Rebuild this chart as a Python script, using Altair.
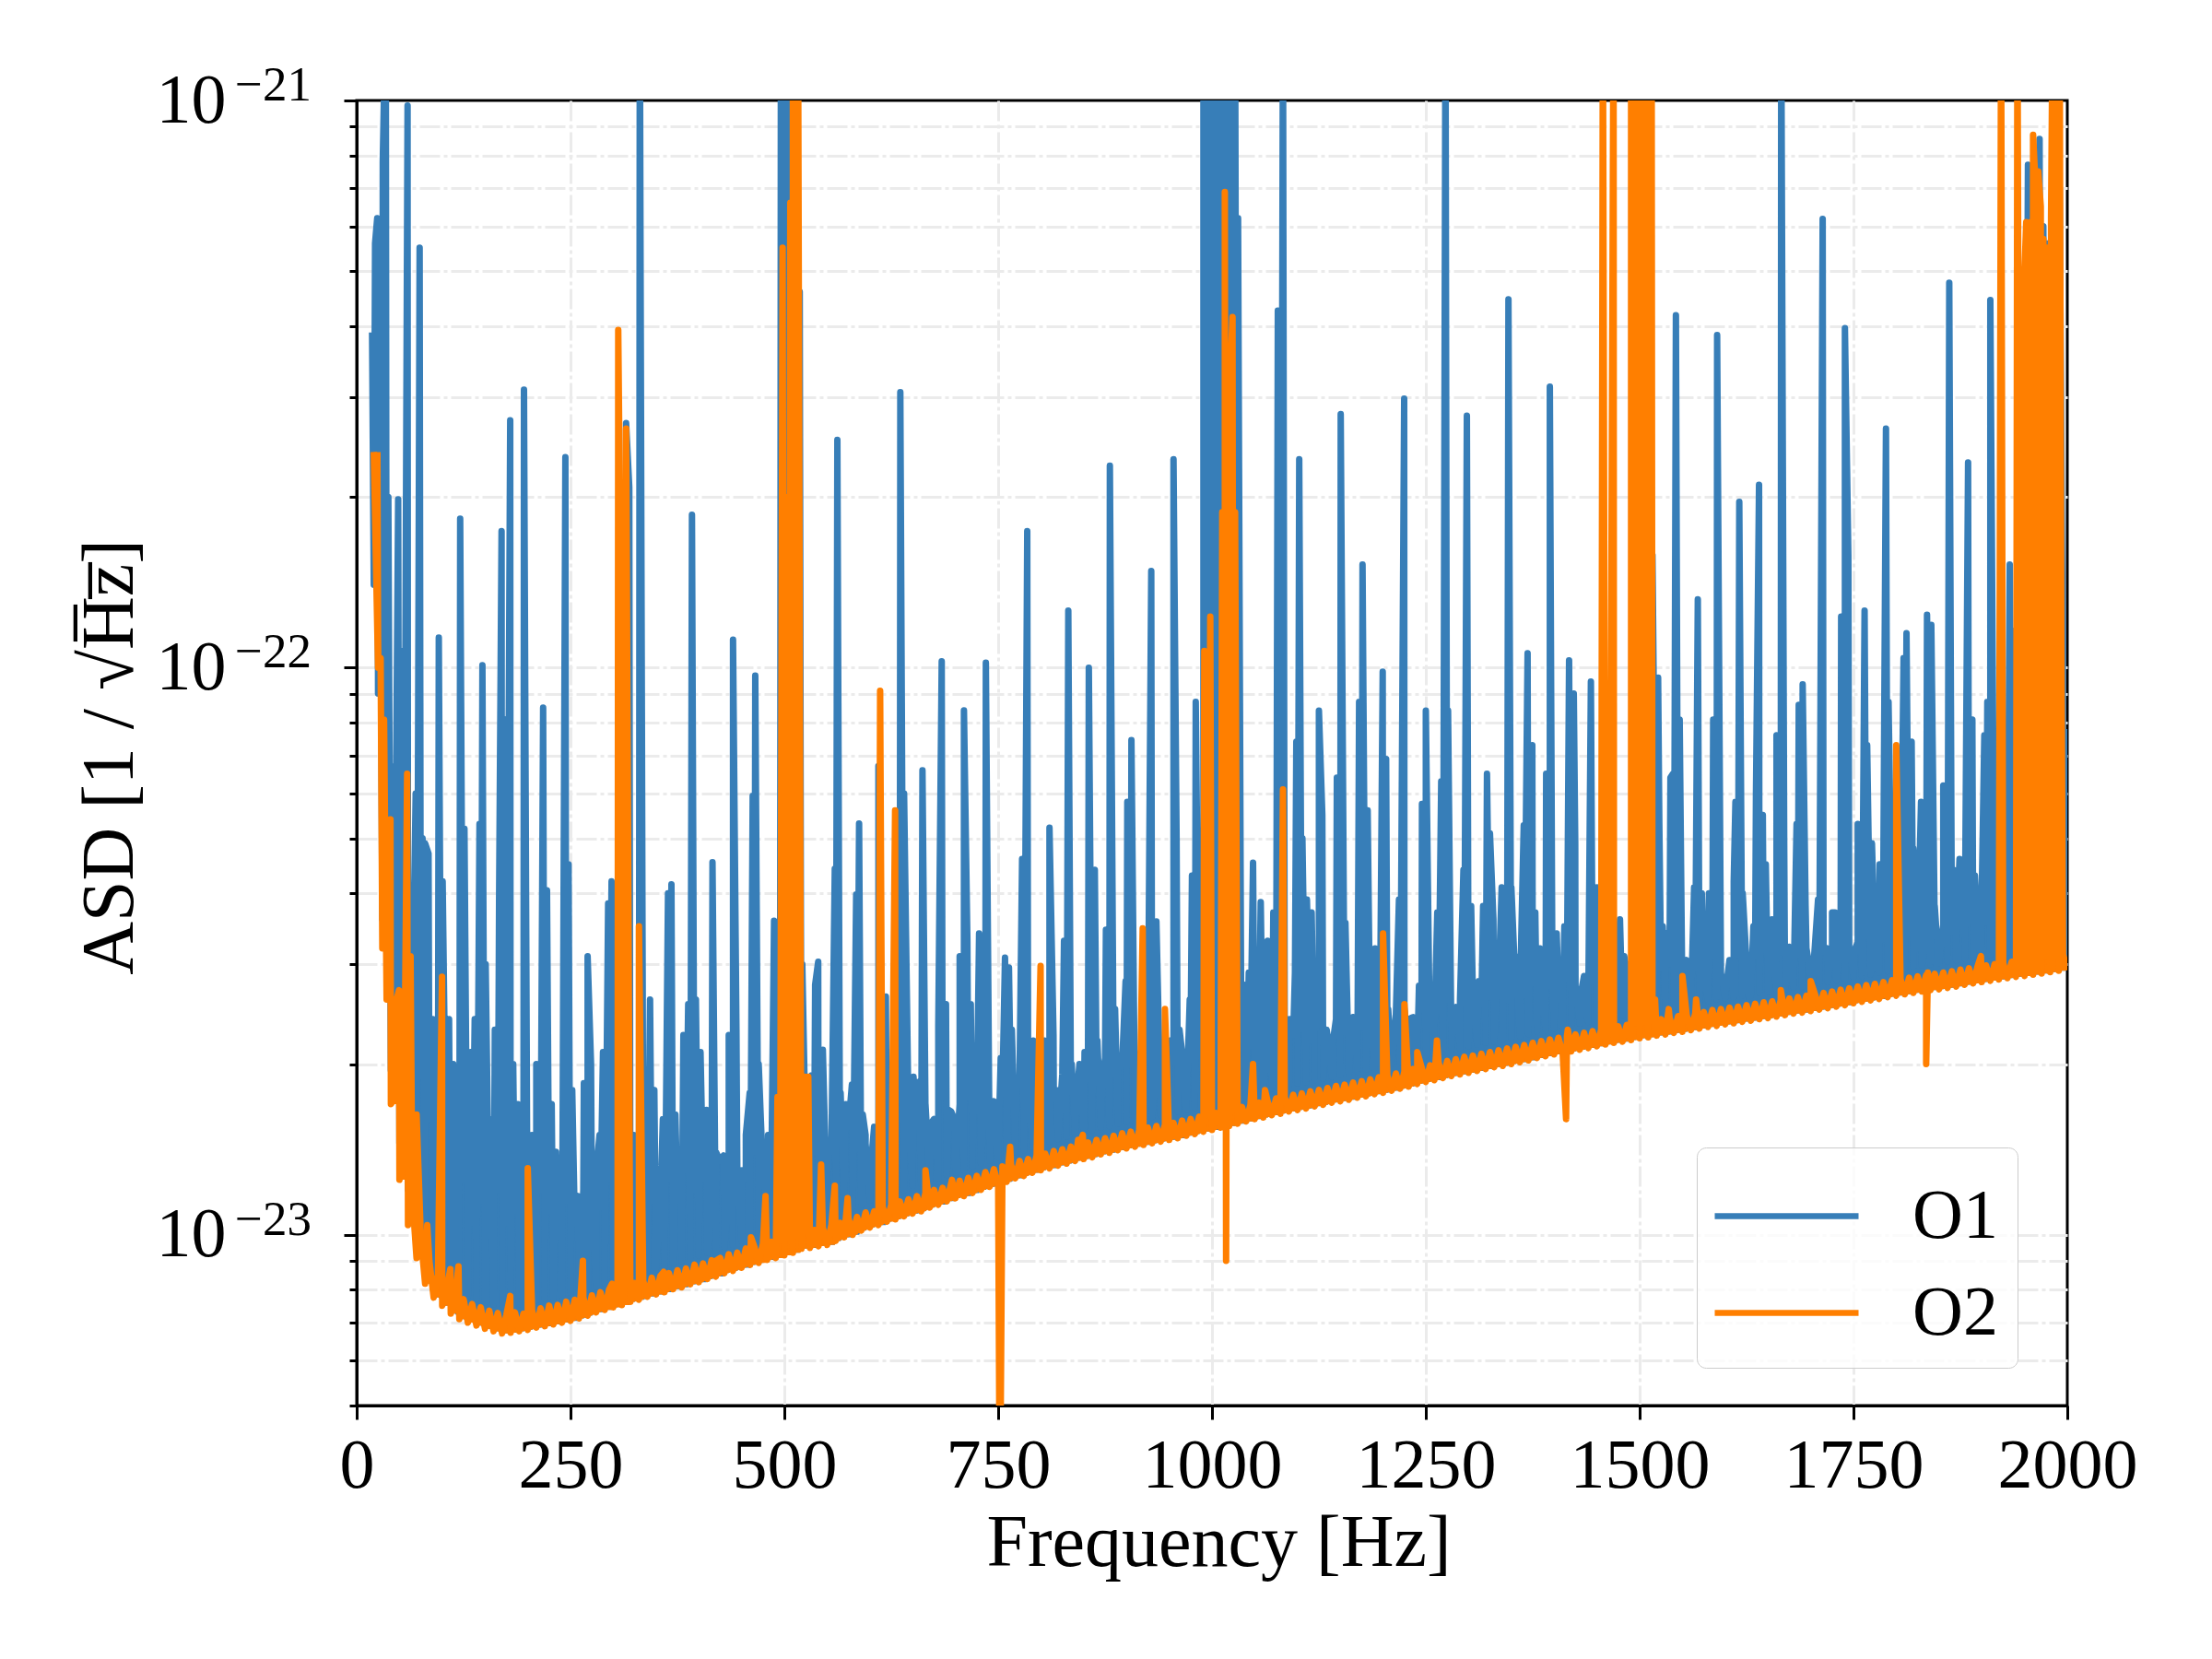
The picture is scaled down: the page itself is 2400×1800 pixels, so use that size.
import altair as alt
import pandas as pd

# ---------------- data (ASD in units of 1e-23 / sqrt(Hz)) ----------------
# frequency grids of the broadband noise trace (Hz)
GRID_LO_F = list(range(20, 2001, 10))
GRID_HI_F = list(range(25, 1996, 10))

# O1 broadband noise: lower envelope and grass tops
O1_LO = [14.0, 3.6, 1.95, 1.45, 1.2, 1.02, 0.92, 0.86,
         0.83, 0.80, 0.79, 0.78, 0.77, 0.76, 0.755, 0.75, 0.752, 0.755,
         0.76, 0.765, 0.77, 0.775, 0.78, 0.79, 0.795, 0.80, 0.81, 0.82,
         0.83, 0.84, 0.845, 0.855, 0.865, 0.875, 0.88, 0.89, 0.90, 0.91,
         0.92, 0.93, 0.94, 0.95, 0.96, 0.975, 0.985, 0.995, 1.005, 1.015,
         1.03, 1.04, 1.05, 1.06, 1.065, 1.075, 1.09, 1.10, 1.12, 1.13,
         1.15, 1.16, 1.18, 1.19, 1.20, 1.22, 1.23, 1.245, 1.26, 1.275,
         1.29, 1.30, 1.32, 1.335, 1.35, 1.37, 1.38, 1.40, 1.41, 1.43,
         1.45, 1.46, 1.475, 1.49, 1.50, 1.515, 1.53, 1.545, 1.555, 1.57,
         1.58, 1.59, 1.60, 1.615, 1.625, 1.635, 1.65, 1.66, 1.675, 1.69,
         1.70, 1.72, 1.73, 1.745, 1.76, 1.78, 1.79, 1.81, 1.82, 1.835,
         1.85, 1.86, 1.875, 1.885, 1.90, 1.915, 1.925, 1.94, 1.955, 1.97,
         1.98, 2.0, 2.01, 2.03, 2.05, 2.07, 2.085, 2.10, 2.12, 2.135,
         2.15, 2.165, 2.18, 2.195, 2.21, 2.225, 2.24, 2.26, 2.28, 2.295,
         2.31, 2.33, 2.34, 2.36, 2.375, 2.39, 2.41, 2.42, 2.435, 2.45,
         2.47, 2.48, 2.495, 2.51, 2.52, 2.54, 2.55, 2.57, 2.585, 2.60,
         2.61, 2.625, 2.64, 2.65, 2.67, 2.68, 2.695, 2.71, 2.73, 2.74,
         2.76, 2.775, 2.79, 2.81, 2.825, 2.845, 2.86, 2.88, 2.90, 2.915,
         2.93, 2.95, 2.97, 2.985, 3.0, 3.015, 3.03, 3.05, 3.07, 3.085,
         3.10, 3.115, 3.13, 3.15, 3.165, 3.18, 3.195, 3.21, 3.23, 3.245,
         3.26]

O1_HI = [9.0, 6.0, 3.8, 3.0, 2.4, 1.9, 1.6, 1.4,
         1.2, 1.1, 1.25, 1.05, 1.15, 1.0, 1.2, 1.05, 1.1, 1.15,
         1.05, 1.2, 1.1, 1.0, 1.15, 1.05, 1.2, 1.1, 1.12, 1.25,
         1.12, 1.2, 1.1, 1.3, 1.15, 1.12, 1.25, 1.15, 1.3, 1.2,
         1.25, 1.18, 1.35, 1.22, 1.3, 1.25, 1.4, 1.28, 1.35, 1.5,
         1.55, 1.35, 1.45, 1.4, 1.5, 1.4, 1.45, 1.55, 1.42, 1.5,
         1.55, 1.6, 1.5, 1.6, 1.7, 1.55, 1.65, 1.6, 1.75, 1.65,
         1.7, 1.75, 1.65, 1.85, 1.72, 1.8, 1.7, 1.9, 1.78, 1.82,
         1.85, 1.8, 1.92, 1.85, 2.0, 1.88, 1.95, 2.05, 1.92, 2.0,
         2.0, 1.95, 2.05, 2.0, 2.15, 2.02, 2.1, 2.2, 2.08, 2.2,
         2.1, 2.25, 2.12, 2.2, 2.15, 2.3, 2.2, 2.25, 2.35, 2.25,
         2.3, 2.2, 2.35, 2.25, 2.4, 2.28, 2.42, 2.32, 2.36, 2.45,
         2.38, 2.45, 2.52, 2.42, 2.5, 2.58, 2.48, 2.6, 2.52, 2.58,
         2.65, 2.55, 2.62, 2.72, 2.6, 2.7, 2.64, 2.78, 2.68, 2.75,
         2.72, 2.82, 2.75, 2.86, 2.8, 2.9, 2.84, 2.95, 2.88, 2.92,
         2.92, 2.85, 2.95, 3.0, 2.9, 3.05, 2.95, 3.02, 3.1, 3.0,
         3.05, 3.12, 3.02, 3.1, 3.18, 3.08, 3.15, 3.22, 3.12, 3.2,
         3.25, 3.15, 3.22, 3.3, 3.2, 3.28, 3.36, 3.25, 3.32, 3.4,
         3.32, 3.4, 3.48, 3.38, 3.45, 3.52, 3.42, 3.5, 3.58, 3.48,
         3.55, 3.62, 3.5, 3.6, 3.68, 3.56, 3.65, 3.72, 3.6, 3.3]

# O2 broadband noise: lower envelope and band top
O2_LO = [24.0, 3.2, 1.70, 1.25, 1.04, 0.91, 0.82, 0.775,
         0.75, 0.726, 0.71, 0.70, 0.692, 0.683, 0.676, 0.67, 0.672, 0.676,
         0.68, 0.686, 0.69, 0.695, 0.70, 0.705, 0.712, 0.72, 0.73, 0.737,
         0.745, 0.752, 0.762, 0.768, 0.778, 0.785, 0.792, 0.802, 0.808, 0.818,
         0.825, 0.836, 0.844, 0.856, 0.864, 0.875, 0.885, 0.892, 0.903, 0.91,
         0.92, 0.93, 0.945, 0.948, 0.955, 0.96, 0.975, 0.99, 1.0, 1.017,
         1.03, 1.04, 1.055, 1.065, 1.078, 1.09, 1.10, 1.117, 1.13, 1.146,
         1.16, 1.17, 1.185, 1.20, 1.215, 1.23, 1.24, 1.258, 1.27, 1.286,
         1.30, 1.31, 1.325, 1.335, 1.35, 1.36, 1.37, 1.386, 1.395, 1.41,
         1.42, 1.43, 1.44, 1.45, 1.46, 1.47, 1.48, 1.495, 1.505, 1.52,
         1.53, 1.545, 1.555, 1.57, 1.585, 1.60, 1.61, 1.625, 1.635, 1.65,
         1.66, 1.67, 1.685, 1.695, 1.71, 1.72, 1.73, 1.745, 1.755, 1.77,
         1.78, 1.795, 1.81, 1.825, 1.845, 1.86, 1.873, 1.89, 1.905, 1.918,
         1.93, 1.945, 1.96, 1.975, 1.985, 2.0, 2.015, 2.03, 2.05, 2.065,
         2.08, 2.095, 2.105, 2.12, 2.135, 2.15, 2.165, 2.18, 2.19, 2.205,
         2.22, 2.23, 2.245, 2.255, 2.27, 2.28, 2.295, 2.31, 2.325, 2.335,
         2.35, 2.36, 2.375, 2.385, 2.4, 2.41, 2.425, 2.44, 2.455, 2.465,
         2.48, 2.495, 2.51, 2.525, 2.54, 2.56, 2.575, 2.59, 2.605, 2.625,
         2.64, 2.655, 2.67, 2.685, 2.7, 2.71, 2.725, 2.74, 2.76, 2.775,
         2.79, 2.805, 2.82, 2.835, 2.85, 2.86, 2.875, 2.89, 2.905, 2.92,
         2.93]

O2_HI = [10.0, 2.6, 1.75, 1.37, 1.17, 0.99, 0.9, 0.85,
         0.80, 0.78, 0.77, 0.755, 0.745, 0.735, 0.728, 0.722, 0.73, 0.726,
         0.736, 0.742, 0.75, 0.752, 0.762, 0.768, 0.776, 0.782, 0.792, 0.80,
         0.806, 0.815, 0.822, 0.83, 0.84, 0.846, 0.856, 0.866, 0.872, 0.886,
         0.89, 0.902, 0.91, 0.924, 0.93, 0.946, 0.952, 0.964, 0.972, 0.985,
         0.99, 1.0, 1.015, 1.02, 1.03, 1.04, 1.05, 1.07, 1.075, 1.095,
         1.10, 1.12, 1.13, 1.145, 1.155, 1.17, 1.185, 1.20, 1.21, 1.23,
         1.245, 1.26, 1.27, 1.29, 1.305, 1.32, 1.33, 1.35, 1.36, 1.38,
         1.39, 1.405, 1.415, 1.43, 1.44, 1.455, 1.47, 1.48, 1.495, 1.51,
         1.52, 1.53, 1.545, 1.555, 1.565, 1.575, 1.59, 1.60, 1.615, 1.63,
         1.64, 1.655, 1.67, 1.68, 1.695, 1.71, 1.72, 1.74, 1.75, 1.765,
         1.775, 1.79, 1.80, 1.815, 1.83, 1.84, 1.855, 1.865, 1.88, 1.895,
         1.91, 1.925, 1.94, 1.96, 1.975, 1.99, 2.01, 2.025, 2.04, 2.06,
         2.07, 2.085, 2.10, 2.115, 2.13, 2.145, 2.16, 2.18, 2.195, 2.21,
         2.225, 2.24, 2.255, 2.27, 2.285, 2.30, 2.315, 2.33, 2.345, 2.36,
         2.37, 2.385, 2.40, 2.415, 2.43, 2.44, 2.455, 2.47, 2.49, 2.50,
         2.515, 2.525, 2.54, 2.555, 2.57, 2.58, 2.595, 2.61, 2.625, 2.64,
         2.655, 2.67, 2.685, 2.705, 2.72, 2.74, 2.755, 2.77, 2.79, 2.81,
         2.825, 2.84, 2.855, 2.87, 2.885, 2.90, 2.915, 2.935, 2.95, 2.97,
         2.985, 3.0, 3.015, 3.03, 3.045, 3.06, 3.075, 3.09, 3.11, 3.12]

# O1 spectral lines (Hz, peak); 150 = beyond the top of the plot
O1_LINES_A = [(18, 39), (21.5, 56), (24, 62), (27, 25), (30.5, 78), (34, 150), (37, 20),
              (42, 6.7), (48.5, 19.8), (52, 10.7), (56, 4.5), (59.5, 98), (64.6, 3.0),
              (69, 6.0), (73.6, 55), (77, 5.0), (80, 4.9), (84, 4.7), (89, 2.4), (96, 11.3),
              (100.5, 4.2), (108, 2.4), (113, 2.0), (121, 18.3), (126, 5.2), (133, 2.1),
              (138, 2.4), (143.6, 5.3), (147, 10.1), (150.8, 3.0), (156, 1.6), (161.5, 2.3),
              (166.5, 3.9), (169.4, 17.4), (174, 8.1), (179.5, 27.3), (183, 2.0),
              (188.4, 1.7), (195.6, 30.9), (205, 1.5), (210, 2.0), (218, 8.5), (222.5, 4.05),
              (228, 1.7), (233, 1.4), (238.7, 1.37), (244, 23.5), (247.7, 4.5), (252, 1.8),
              (258.4, 1.17), (265.6, 1.85), (270, 3.1), (274, 2.0), (280, 1.3), (284, 1.5),
              (288, 2.1), (294, 3.84), (298, 4.2), (302, 1.6), (310, 1.5), (315, 27),
              (318.7, 20.8), (324, 1.5), (331, 150), (336, 1.9), (341, 1.3), (343, 2.6),
              (348, 1.8), (358, 1.6), (364, 4.0), (368, 4.15), (372.6, 1.63), (378, 1.4),
              (382, 2.25), (387.6, 2.55), (392, 18.6), (396.6, 2.6), (402, 2.1), (409, 1.66),
              (416, 4.54), (420, 1.4), (429, 1.38), (435, 2.25), (440, 11.2), (444, 2.3),
              (450.5, 1.3), (455, 1.5), (459.5, 1.78), (463, 5.94), (466, 9.68), (470, 2.0),
              (475.6, 1.4), (481, 1.5), (488, 3.58), (493.5, 3.1)]
O1_LINES_B = [(496, 150), (499, 150), (502, 150), (505, 150), (508, 150), (511, 150),
              (514, 150), (518, 46), (521, 3.0), (532, 1.91), (536, 2.76), (539.6, 3.03),
              (545, 2.12), (552, 1.47), (559, 4.42), (562, 25.2), (565.8, 1.78), (572, 1.7),
              (579, 1.84), (584, 3.98), (587.4, 5.31), (591.7, 1.63), (595, 1.45),
              (602.5, 1.4), (610, 6.71), (618.7, 2.63), (622, 1.84), (630, 1.6),
              (635.6, 30.6), (640, 6.0), (645.7, 1.55), (651, 1.9), (656.5, 1.86),
              (661.5, 6.59), (665, 1.7), (671, 1.57), (680, 2.33), (684, 10.26), (689, 2.55),
              (692.4, 1.66), (699, 1.6), (705, 3.1), (710, 8.41), (714, 3.3), (718, 2.55),
              (721, 1.73), (727.7, 3.4), (735.6, 10.2), (741, 1.61), (746, 1.5), (753, 2.05),
              (758, 3.08), (762.6, 2.96), (766, 2.3), (771.6, 1.8), (778, 4.6), (784, 17.4),
              (791, 2.2), (797, 1.9), (804, 2.2), (810, 5.22), (814.7, 2.25), (818, 1.8),
              (827, 3.3), (832, 12.6), (836, 2.0), (842, 1.75), (851, 2.1), (856, 10.0),
              (863, 4.4), (866, 2.2), (872, 1.9), (876, 3.45), (880.6, 22.7), (886.7, 2.5),
              (890, 2.0), (899, 2.8), (901, 5.8), (905.8, 7.45), (910, 2.1), (916, 1.9),
              (924, 2.6), (929, 14.8), (935, 3.57), (940, 1.9), (945, 2.0), (951, 2.2),
              (955, 23.3), (958.6, 5.0), (962, 2.3), (968, 1.8), (974, 2.6), (976.6, 4.3),
              (981, 8.7), (985, 3.0)]
O1_LINES_C = [(990, 150), (993, 150), (996, 150), (999, 150), (1002, 150), (1005, 8.4),
              (1009, 150), (1012, 150), (1015, 150), (1018, 150), (1021, 150), (1024, 150),
              (1027, 150), (1030.5, 62), (1034, 2.7), (1037.6, 2.76), (1043, 2.9),
              (1048, 4.53), (1057, 3.86), (1065, 3.3), (1071.7, 3.7), (1077, 42.6),
              (1083, 150), (1091, 2.4), (1097, 2.9), (1098.6, 7.4), (1102, 23.3),
              (1105.7, 5.0), (1111, 3.9), (1116.5, 3.7), (1120, 2.3), (1125, 8.4),
              (1129, 5.5), (1134, 2.3), (1140, 2.12), (1146, 6.4), (1150.5, 28.0),
              (1156, 3.55), (1163, 2.3), (1166.7, 2.4), (1172, 8.7), (1176, 15.2),
              (1182, 5.6), (1184.6, 2.5), (1190.7, 3.2), (1196, 2.0), (1199.6, 9.84),
              (1203.6, 6.9), (1206, 2.5), (1211.5, 2.1), (1218.6, 3.9), (1224.7, 29.8),
              (1230, 2.4), (1236, 2.2), (1242, 2.75), (1245.5, 5.75), (1250, 8.4),
              (1254.5, 2.3), (1260, 2.3), (1263.4, 3.7), (1268, 6.3), (1273, 150),
              (1276, 8.4), (1282, 2.5), (1286.7, 2.4), (1290, 2.6), (1294, 4.4),
              (1298, 27.8), (1303, 3.8), (1306.5, 2.5), (1312, 2.8), (1317, 3.8),
              (1321.5, 6.5), (1325, 5.1), (1329, 3.6), (1333, 2.8), (1338.7, 4.1),
              (1342, 4.0), (1346.6, 44.6), (1350, 4.1), (1355, 3.1), (1360, 2.6),
              (1364.5, 5.27), (1369, 10.6), (1374.5, 7.3), (1378, 3.7), (1383.5, 3.2),
              (1389, 2.4), (1390.7, 6.5), (1395, 31.3), (1398, 2.8), (1403, 3.4),
              (1407, 2.8), (1412, 3.5), (1417.5, 10.3), (1423, 9.0), (1424.7, 4.9),
              (1430, 2.6), (1435.5, 2.5), (1440, 2.6), (1443, 9.45), (1447, 3.84),
              (1450, 4.1), (1457, 3.0), (1462.4, 4.2), (1466, 4.2), (1471, 3.0),
              (1477, 3.6), (1482, 3.1), (1488, 3.0)]
O1_LINES_D = [(1515, 15.8), (1521.6, 9.6), (1523, 5.3), (1527, 3.5), (1531, 3.4),
              (1536, 6.4), (1539, 6.5), (1542.4, 41.8), (1546.8, 8.1), (1550, 2.9),
              (1555.8, 2.6), (1563.7, 4.1), (1568, 13.2), (1572.7, 4.0), (1576, 2.8),
              (1581, 4.0), (1586, 8.1), (1590.6, 38.6), (1595, 2.9), (1600.7, 2.7),
              (1606, 3.0), (1610, 4.2), (1612, 5.8), (1616.5, 19.6), (1620.5, 4.0),
              (1624, 3.2), (1628, 2.6), (1633, 3.5), (1636, 6.0), (1639.6, 21.0),
              (1644, 5.5), (1647.5, 4.5), (1650, 2.9), (1654.7, 3.6), (1660, 7.6),
              (1665.5, 150), (1669, 4.9), (1673, 3.1), (1678, 2.8), (1683.5, 5.3),
              (1686, 8.6), (1690.6, 9.34), (1694, 3.8), (1698, 3.0), (1702, 2.8),
              (1708.6, 3.9), (1714, 61.8), (1719, 3.2), (1725, 3.7), (1728.4, 3.7),
              (1735.6, 12.3), (1740, 39.7), (1744, 15.8), (1748, 3.0), (1752, 3.2),
              (1755, 5.3), (1763, 12.6), (1766, 7.3), (1771.6, 4.9), (1775, 3.0),
              (1780.6, 4.5), (1785, 4.6), (1788, 26.4), (1791, 8.7), (1795, 3.0),
              (1804, 3.5), (1808.6, 10.4), (1812, 11.5), (1818, 7.4), (1820, 4.8),
              (1825, 3.2), (1829, 5.8), (1836, 12.4), (1841, 11.9), (1845, 3.8),
              (1849, 3.1), (1855, 6.2), (1862, 47.7), (1867, 4.4), (1870, 3.2),
              (1874, 4.6), (1879.5, 4.6), (1884, 23.0), (1889, 8.1), (1892, 4.3),
              (1897, 3.2), (1900, 4.0), (1903, 7.6), (1906.5, 8.7), (1910, 44.5),
              (1914, 5.2), (1917, 4.4), (1928, 3.5), (1932.7, 15.2), (1937, 11.6),
              (1946, 3.2), (1954, 77), (1958, 70), (1964, 74), (1967.6, 85.5),
              (1972, 60), (1978, 56), (1986, 150), (1991, 70), (1994.6, 11.1),
              (1998, 7.7), (2000, 4.2)]

# O2 spectral lines and dips (Hz, value)
O2_LINES_A = [(28, 10.4), (32, 8.1), (39.5, 5.4), (46.7, 2.6), (49.5, 2.7), (59, 6.5),
              (63, 3.1), (70, 1.63), (82.5, 1.04), (99.8, 2.85), (109.5, 0.87), (119, 0.88),
              (179.5, 0.78), (200, 1.31), (264.5, 0.9), (298.6, 0.82), (305.8, 39.4),
              (309, 12), (312, 17.8), (315, 26.4), (318, 3.0), (330, 3.5), (359, 0.86),
              (420, 0.9), (461, 0.99), (478, 1.17), (492, 1.75), (498, 55), (502, 20),
              (507, 66), (510, 150), (513, 150), (516, 150), (519, 3.0), (524, 1.9),
              (528, 1.9), (543, 1.33), (559, 1.22), (574, 1.16), (612, 9.1), (629.5, 5.6),
              (665, 1.3), (696, 1.25), (752, 0.3), (764, 1.43), (799.6, 2.98),
              (843.5, 1.47), (849, 1.5), (919, 3.47), (945, 2.5), (991, 10.7), (998, 12.3)]
O2_LINES_B = [(1012, 18.8), (1015, 69), (1016.5, 0.9), (1019, 32.7), (1022, 35),
              (1024, 41.5), (1027, 18.8), (1048, 2.0), (1062, 1.8), (1083, 6.1),
              (1200, 3.4), (1225, 2.55), (1240, 2.1), (1263, 2.2), (1414, 1.6), (1416, 2.3),
              (1457, 150), (1469.5, 150), (1490, 150), (1493, 60), (1496, 150), (1499, 150),
              (1502, 80), (1505, 150), (1508, 150), (1511, 150), (1514, 150), (1518, 2.6),
              (1534, 2.5), (1550, 2.86), (1566, 2.6), (1665, 2.7), (1700, 2.8), (1800, 7.3),
              (1835, 2.0), (1837, 2.9), (1899, 3.1), (1922.6, 150), (1941.7, 150),
              (1950, 50), (1952, 61), (1954, 40), (1957, 61), (1960, 87), (1963, 70),
              (1966, 75), (1969, 65), (1972, 57), (1975, 55), (1978, 55), (1981, 62),
              (1983, 150), (1986, 150), (1989, 150), (1991, 150), (1993, 11)]

SERIES = ["O1", "O2"]
COLORS = ["#377eb8", "#ff7f00"]
X_TICKS = [0, 250, 500, 750, 1000, 1250, 1500, 1750, 2000]
Y_TICKS = ([m * 1e-24 for m in (5, 6, 7, 8, 9)] +
           [m * 1e-23 for m in range(1, 10)] +
           [m * 1e-22 for m in range(1, 10)] + [1e-21])
DECADES = [1e-21, 1e-22, 1e-23]
EXPONENTS = ["\u221221", "\u221222", "\u221223"]
UNIT = 1e-23


def trace(name, lo, hi, lines, floor):
    pts = [(f, v, b) for f, v, b in zip(GRID_LO_F, lo, floor)]
    pts += [(f, v, None) for f, v in zip(GRID_HI_F, hi)]
    pts += [(f, v, None) for f, v in lines]
    df = pd.DataFrame(pts, columns=["freq", "val", "flr"])
    df = df.sort_values("freq", kind="mergesort").reset_index(drop=True)
    # bottom of the filled noise band: the latest O2 lower-envelope sample
    df["base"] = df["flr"].astype(float).ffill().bfill() * UNIT
    df["asd"] = df["val"] * UNIT
    df["series"] = name
    df["idx"] = range(len(df))
    return df[["freq", "asd", "base", "series", "idx"]]


data = pd.concat([
    trace("O1", O1_LO, O1_HI, O1_LINES_A + O1_LINES_B + O1_LINES_C + O1_LINES_D, O2_LO),
    trace("O2", O2_LO, O2_HI, O2_LINES_A + O2_LINES_B, O2_LO),
], ignore_index=True)
exps = pd.DataFrame({"asd": DECADES, "lab": EXPONENTS})

FONT = "Liberation Serif"
DEC = "abs(datum.value / pow(10, round(log(datum.value) / LN10)) - 1) < 0.01"
Y_LABEL = f"{DEC} ? '10' : ''"

x_scale = alt.Scale(domain=[0, 2000], nice=False, zero=False)
y_scale = alt.Scale(type="log", domain=[5e-24, 1e-21], nice=False)

x_enc = alt.X("freq:Q", scale=x_scale,
              axis=alt.Axis(values=X_TICKS, format="d", title="Frequency [Hz]",
                            tickSize=15, labelPadding=73, labelBaseline="alphabetic",
                            labelFlush=False, labelOverlap=False,
                            gridOpacity={"condition": {"test": "datum.value == 0 || datum.value == 2000",
                                                       "value": 0}, "value": 1},
                            titleX=935, titleY=173, titleBaseline="alphabetic",
                            titleAlign="center"))
y_axis = alt.Axis(values=Y_TICKS, labelExpr=Y_LABEL,
                  title="ASD [1 / \u221aH\u0305z\u0305]",
                  tickSize={"condition": {"test": DEC, "value": 14}, "value": 8},
                  gridOpacity={"condition": {"test": "datum.value < 5.1e-24 || datum.value > 9.9e-22",
                                             "value": 0}, "value": 1},
                  labelPadding=128, labelFlush=False, labelOverlap=False,
                  titleAngle=270, titleX=-244, titleY=712,
                  titleBaseline="alphabetic", titleAlign="center")
y_enc = alt.Y("asd:Q", scale=y_scale, axis=y_axis)
legend = alt.Legend(title=None, orient="none", legendX=1454, legendY=1136,
                    symbolType="M-1.56,0H1.56", symbolSize=10000,
                    symbolStrokeWidth=6.5, symbolOffset=23, labelFont=FONT,
                    labelFontSize=76, labelColor="black",
                    labelOffset=83, padding=21, rowPadding=13,
                    cornerRadius=10, strokeColor="#cccccc",
                    fillColor="rgba(255,255,255,0.8)")
c_enc = alt.Color("series:N", scale=alt.Scale(domain=SERIES, range=COLORS), legend=legend)

base = alt.Chart(data)
layers = []
for name, col in zip(SERIES, COLORS):
    sub = base.transform_filter(alt.datum.series == name)
    layers.append(sub.mark_area(clip=True, color=col, opacity=1, strokeWidth=0).encode(
        x=x_enc, y=y_enc, y2="base:Q"))
    layers.append(sub.mark_line(clip=True, strokeWidth=7, strokeJoin="round").encode(
        x=x_enc, y=y_enc, color=c_enc, order=alt.Order("idx:Q")))

exp_text = alt.Chart(exps).mark_text(
    align="left", baseline="alphabetic", font=FONT, fontSize=53, color="black", clip=False
).encode(
    y=y_enc,
    x=alt.value(-132),
    text="lab:N",
)
layers.append(exp_text)

chart = alt.layer(*layers).properties(
    width=1856, height=1416,
    autosize=alt.AutoSizeParams(type="none"),
    padding={"left": 379, "top": 101, "right": 149, "bottom": 267},
    background="white",
).configure_view(
    stroke="black", strokeWidth=3
).configure_axis(
    domainColor="black", domainWidth=3, tickColor="black", tickWidth=3,
    labelFont=FONT, labelFontSize=76, labelColor="black",
    titleFont=FONT, titleFontSize=80, titleFontWeight="normal", titleColor="black",
    grid=True, gridColor="#ebebeb", gridWidth=3, gridDash=[22, 4, 4, 4],
)

chart.save("out.html", embed_options={"renderer": "svg", "actions": False})
